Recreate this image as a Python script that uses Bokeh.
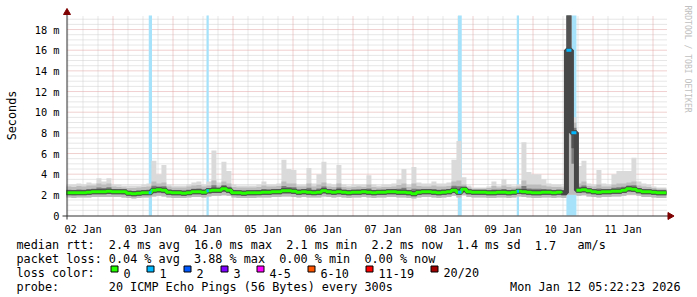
import math
import re
import numpy as np
from bokeh.plotting import figure
from bokeh.models import Range1d
from bokeh.core.properties import value
from bokeh.embed import file_html
from bokeh.resources import INLINE

MONO = "DejaVu Sans Mono"

# ---------------- data ----------------
# time in hours after 02 Jan 2026 00:00
start_hour = 5.37            # 02 Jan 05:22
step_hours = 2.0
day_labels = ["02 Jan", "03 Jan", "04 Jan", "05 Jan", "06 Jan",
              "07 Jan", "08 Jan", "09 Jan", "10 Jan", "11 Jan"]
y_tick_values = [0, 2, 4, 6, 8, 10, 12, 14, 16, 18]
y_tick_labels = ["0", "2 m", "4 m", "6 m", "8 m", "10 m", "12 m", "14 m", "16 m", "18 m"]

# milliseconds, one value per 2-hour step
median_ms = [
    2.2, 2.2, 2.2, 2.2, 2.25, 2.3,
    2.3, 2.3, 2.35, 2.3, 2.3, 2.3, 2.15,
    2.1, 2.15, 2.2, 2.2,
    2.45, 2.5, 2.45,
    2.25, 2.2, 2.2, 2.15, 2.2,
    2.3, 2.3, 2.25,
    2.4, 2.45, 2.45, 2.6, 2.45,
    2.2, 2.2, 2.15, 2.2, 2.2, 2.2,
    2.25, 2.25, 2.3, 2.3,
    2.4, 2.4, 2.35,
    2.25, 2.3, 2.25, 2.2, 2.25, 2.4,
    2.3, 2.25, 2.3, 2.25, 2.2, 2.25, 2.25, 2.3, 2.25, 2.2, 2.25, 2.25, 2.3, 2.3, 2.25, 2.25, 2.2,
    2.1,
    2.25, 2.3, 2.3, 2.25, 2.2, 2.25, 2.3,
    2.45, 2.25, 2.55,
    2.3, 2.25, 2.25, 2.25, 2.2,
    2.2, 2.25, 2.25, 2.2, 2.25,
    2.35,
    2.3, 2.25, 2.2, 2.2, 2.25, 2.25, 2.2, 2.25, 2.2,
    16.0, 8.0,
    2.45, 2.5, 2.4,
    2.3, 2.25, 2.3, 2.3, 2.35, 2.35, 2.45,
    2.6, 2.55,
    2.4, 2.3, 2.3, 2.25, 2.2, 2.2,
]
ping_min_ms = [
    1.75, 1.7, 1.75, 1.75, 1.75, 1.8, 1.8, 1.8, 1.8, 1.8,
    1.8, 1.75, 1.7, 1.65, 1.7, 1.75, 1.75, 1.85, 1.9, 1.85,
    1.75, 1.7, 1.7, 1.7, 1.75, 1.8, 1.8, 1.75, 1.85, 1.9,
    1.9, 1.95, 1.9, 1.75, 1.7, 1.7, 1.7, 1.7, 1.75, 1.75,
    1.75, 1.8, 1.8, 1.85, 1.85, 1.8, 1.75, 1.8, 1.75, 1.75,
    1.75, 1.85, 1.8, 1.75, 1.8, 1.75, 1.7, 1.75, 1.75, 1.8,
    1.75, 1.7, 1.75, 1.75, 1.8, 1.8, 1.75, 1.75, 1.7, 1.65,
    1.75, 1.8, 1.8, 1.75, 1.7, 1.75, 1.8, 1.9, 1.75, 1.95,
    1.8, 1.75, 1.75, 1.75, 1.7, 1.7, 1.75, 1.75, 1.7, 1.75,
    1.85, 1.8, 1.75, 1.7, 1.7, 1.75, 1.75, 1.7, 1.75, 1.7,
    2.0, 2.0, 1.9, 1.95, 1.85, 1.8, 1.75, 1.8, 1.8, 1.85,
    1.85, 1.9, 2.0, 2.0, 1.9, 1.8, 1.8, 1.75, 1.7, 1.7,
]
ping_upper_ms = [
    2.8, 2.75, 2.85, 2.8, 2.9, 2.9, 3.1, 3.0, 3.1, 2.8,
    2.75, 2.7, 2.65, 2.65, 2.7, 2.75, 2.8, 3.3, 3.1, 3.2,
    2.8, 2.7, 2.7, 2.7, 2.8, 2.9, 2.95, 2.8, 2.9, 3.4,
    2.9, 3.3, 3.1, 2.75, 2.7, 2.7, 2.7, 2.7, 2.75, 2.9,
    2.8, 2.8, 2.85, 3.3, 3.1, 3.1, 2.8, 2.8, 3.1, 2.8,
    3.0, 3.2, 2.8, 2.75, 3.1, 2.75, 2.7, 2.75, 2.8, 2.75,
    3.0, 2.75, 2.7, 2.75, 2.75, 2.8, 2.95, 3.1, 2.75, 3.1,
    2.85, 2.8, 2.8, 2.9, 2.8, 2.8, 2.85, 3.3, 3.4, 3.0,
    2.7, 2.6, 2.6, 2.6, 2.65, 2.85, 2.7, 2.9, 2.75, 2.7,
    2.8, 3.4, 3.0, 3.0, 3.0, 2.9, 2.8, 2.75, 2.75, 2.7,
    40.0, 9.0, 3.1, 3.3, 2.85, 2.8, 3.0, 2.8, 2.8, 3.0,
    3.1, 3.1, 3.2, 3.3, 2.9, 2.8, 2.75, 2.65, 2.6, 2.6,
]
ping_max_ms = [
    3.0, 3.0, 3.1, 3.0, 3.2, 3.1, 3.6, 3.3, 3.6, 3.0,
    3.0, 2.9, 2.9, 2.9, 2.9, 3.0, 3.1, 5.3, 4.0, 4.9,
    3.0, 2.9, 2.9, 2.9, 3.0, 3.2, 3.3, 3.0, 3.3, 6.3,
    3.2, 5.2, 4.3, 3.0, 2.9, 2.9, 2.9, 2.9, 3.0, 3.3,
    3.0, 3.0, 3.1, 5.4, 4.5, 4.4, 3.0, 3.0, 4.6, 3.1,
    4.0, 5.2, 3.1, 3.0, 4.9, 3.0, 2.9, 3.0, 3.0, 3.0,
    3.9, 3.0, 2.9, 3.0, 3.0, 3.1, 3.5, 4.5, 3.0, 4.7,
    3.2, 3.1, 3.1, 3.3, 3.1, 3.1, 3.2, 5.4, 7.2, 3.7,
    2.9, 2.7, 2.7, 2.7, 2.8, 3.3, 2.9, 3.5, 3.0, 2.9,
    3.0, 7.1, 4.2, 4.0, 4.0, 3.5, 3.1, 3.0, 3.0, 2.9,
    40.0, 9.5, 4.8, 5.3, 3.1, 3.0, 4.4, 3.1, 3.0, 4.0,
    4.3, 4.3, 4.3, 5.6, 3.3, 3.1, 3.0, 2.8, 2.7, 2.7,
]

# periods with packet loss (hours after 02 Jan 00:00) and lost pings
loss_start_hour = [38.3, 61.4, 162.0, 185.5, 205.37]
loss_end_hour = [39.6, 62.3, 163.5, 186.4, 209.37]
loss_pings = [1, 1, 1, 1, 1]

loss_labels = ["0", "1", "2", "3", "4-5", "6-10", "11-19", "20/20"]
loss_colors = ["#26ff00", "#00b8ff", "#0059ff", "#7e00ff", "#ff00ff", "#ff5500", "#ff0000", "#a10000"]
loss_upper = [0, 1, 2, 3, 5, 10, 19, 20]

stats_rtt = "median rtt:  2.4 ms avg  16.0 ms max  2.1 ms min  2.2 ms now  1.4 ms sd  1.7   am/s"
stats_loss = "packet loss: 0.04 % avg  3.88 % max  0.00 % min  0.00 % now"
legend_title = "loss color:"
probe_text = "probe:       20 ICMP Echo Pings (56 Bytes) every 300s"
stamp_text = "Mon Jan 12 05:22:23 2026"
watermark = "RRDTOOL / TOBI OETIKER"
y_title = "Seconds"

# ---------------- layout (pixels) ----------------
W, H = 697, 297
FRAME_L, FRAME_T, FRAME_W, FRAME_H = 67, 15, 600, 200
FRAME_B = FRAME_T + FRAME_H
X0, X1 = 5.8, 245.8          # hours shown in the data area
Y1 = 19.36                   # ms at the top of the data area
PX_H = FRAME_W / (X1 - X0)
PX_MS = FRAME_H / Y1
CHAR_W = 7.1

AXIS_COL = "#303030"
ARROW_COL = "#7f0000"
MAJOR_GRID = "#e2a0a0"
MINOR_GRID = "#cdcdcd"


def loss_color(n):
    for up, c in zip(loss_upper, loss_colors):
        if n <= up:
            return c
    return loss_colors[-1]


p = figure(width=W, height=H,
           x_range=Range1d(X0 - FRAME_L / PX_H, X0 + (W - FRAME_L) / PX_H),
           y_range=Range1d(-(H - FRAME_B) / PX_MS, Y1 + FRAME_T / PX_MS),
           output_backend="svg", toolbar_location=None, min_border=0,
           x_axis_type=None, y_axis_type=None)
p.extra_x_ranges = {"px": Range1d(0, W)}
p.extra_y_ranges = {"px": Range1d(H, 0)}
p.outline_line_color = None
p.background_fill_color = "white"
p.border_fill_color = "white"
p.grid.visible = False
PX = dict(x_range_name="px", y_range_name="px")

# ---- grid ----
minor_x = [h for h in range(6, 246, 6) if h % 24 and X0 < h < X1]
major_x = [24 * d for d in range(1, 11)]
minor_y = [v / 2 for v in range(1, 39) if v % 4]
major_y = y_tick_values[1:]
p.segment(x0=minor_x, x1=minor_x, y0=0, y1=Y1, line_color=MINOR_GRID, line_dash="1 1", line_width=1)
p.segment(x0=X0, x1=X1, y0=minor_y, y1=minor_y, line_color=MINOR_GRID, line_dash="1 1", line_width=1)
p.segment(x0=major_x, x1=major_x, y0=0, y1=Y1, line_color=MAJOR_GRID, line_dash="1 1", line_width=1)
p.segment(x0=X0, x1=X1, y0=major_y, y1=major_y, line_color=MAJOR_GRID, line_dash="1 1", line_width=1)

# ---- loss background ----
p.quad(left=loss_start_hour, right=loss_end_hour, bottom=0, top=Y1,
       fill_color="#a6e2fa", line_color=None)

# ---- smoke ----
n = len(median_ms)
edges = [start_hour + i * step_hours for i in range(n + 1)]


def ext(a, cap=None):
    a = list(a) + [a[-1]]
    return [min(v, cap) for v in a] if cap is not None else a


mid_lo = [(l + m) / 2 for l, m in zip(ping_min_ms, median_ms)]
mid_hi = [(m + u) / 2 for m, u in zip(median_ms, ping_upper_ms)]
core_lo = [(l + 3 * m) / 4 for l, m in zip(ping_min_ms, median_ms)]
core_hi = [(3 * m + u) / 4 for m, u in zip(median_ms, ping_upper_ms)]

p.varea_step(x=edges, y1=ext(ping_min_ms), y2=ext(ping_max_ms, Y1), step_mode="after", fill_color="#dadada")
p.varea_step(x=edges, y1=ext(ping_min_ms), y2=ext(ping_upper_ms, Y1), step_mode="after", fill_color="#bcbcbc")
p.varea_step(x=edges, y1=ext(mid_lo), y2=ext(mid_hi, Y1), step_mode="after", fill_color="#7c7c7c")
p.varea_step(x=edges, y1=ext(core_lo), y2=ext(core_hi, Y1), step_mode="after", fill_color="#535353")

# ---- median line coloured by loss ----
p.step(x=edges, y=ext(median_ms), mode="after", line_color="#474747", line_width=5)
green = np.array(ext(median_ms), dtype=float)
seg_x0, seg_x1, seg_y, seg_c = [], [], [], []
for s, e, lp in zip(loss_start_hour, loss_end_hour, loss_pings):
    for i in range(n):
        a, b = edges[i], edges[i + 1]
        lo, hi = max(s, a), min(e, b)
        if hi > lo:
            seg_x0.append(lo)
            seg_x1.append(hi)
            seg_y.append(median_ms[i])
            seg_c.append(loss_color(lp))
            if s <= a + 1e-6 and e >= b - 1e-6:
                green[i] = np.nan
p.step(x=edges, y=green, mode="after", line_color=loss_colors[0], line_width=3)
p.segment(x0=seg_x0, y0=seg_y, x1=seg_x1, y1=seg_y, line_color=seg_c, line_width=3)

# ---- axes ----
p.segment(x0=[FRAME_L - 5], x1=[FRAME_L + FRAME_W + 3], y0=[FRAME_B + 0.5], y1=[FRAME_B + 0.5],
          line_color=AXIS_COL, line_width=1, **PX)
p.segment(x0=[FRAME_L - 0.5], x1=[FRAME_L - 0.5], y0=[FRAME_B + 4], y1=[FRAME_T - 2],
          line_color=AXIS_COL, line_width=1, **PX)
p.scatter(x=[FRAME_L - 0.5], y=[FRAME_T - 3], marker="triangle", size=7,
          fill_color=ARROW_COL, line_color=ARROW_COL, **PX)
p.scatter(x=[FRAME_L + FRAME_W + 2.5], y=[FRAME_B + 0.5], marker="triangle", size=7, angle=-math.pi / 2,
          fill_color=ARROW_COL, line_color=ARROW_COL, **PX)

noon_ticks = [12 + 24 * i for i in range(len(day_labels))]
p.text(x=noon_ticks, y=[FRAME_B + 13.5] * len(noon_ticks), text=day_labels, y_range_name="px",
       text_font=value(MONO), text_font_size="10.3px", text_align="center",
       text_baseline="alphabetic", text_color="black")
p.text(x=[FRAME_L - 8] * len(y_tick_values), y=y_tick_values, text=y_tick_labels, x_range_name="px",
       text_font=value(MONO), text_font_size="10.3px", text_align="right",
       text_baseline="middle", text_color="black")
p.text(x=[11], y=[FRAME_T + FRAME_H / 2], text=[y_title], angle=math.pi / 2,
       text_font=value(MONO), text_font_size="11.8px", text_align="center",
       text_baseline="middle", text_color="black", **PX)
p.text(x=[687], y=[5], text=[watermark], angle=-math.pi / 2,
       text_font=value(MONO), text_font_size="8.1px", text_align="left",
       text_baseline="middle", text_color="#c0c0c0", **PX)

# ---- legend below ----
TXT = dict(text_font=value(MONO), text_font_size="11.8px", text_baseline="alphabetic",
           text_color="black")
LEG_X = 16
line_base = [244.5, 258.5, 272.5, 286.5]
tx, ty, tt = [], [], []
for line, yb in zip([stats_rtt, stats_loss, legend_title, probe_text], line_base):
    for m in re.finditer(r"\S+(?: \S+)*", line):
        tx.append(LEG_X + m.start() * CHAR_W)
        ty.append(yb)
        tt.append(m.group())
p.text(x=tx, y=ty, text=tt, text_align="left", **TXT, **PX)
p.text(x=[680], y=[line_base[3]], text=[stamp_text], text_align="right", **TXT, **PX)

sq_left = []
xpos = 109.5
for lab in loss_labels:
    sq_left.append(round(xpos) + 0.5)
    xpos += 29.6 + len(lab) * CHAR_W
p.quad(left=sq_left, right=[v + 7 for v in sq_left], top=line_base[2] - 7, bottom=line_base[2] - 1,
       fill_color=loss_colors, line_color="black", line_width=1, **PX)
p.text(x=[v + 12.5 for v in sq_left], y=[line_base[2]] * len(sq_left), text=loss_labels,
       text_align="left", **TXT, **PX)

open("out.html", "w").write(file_html(p, INLINE, "smokeping"))
